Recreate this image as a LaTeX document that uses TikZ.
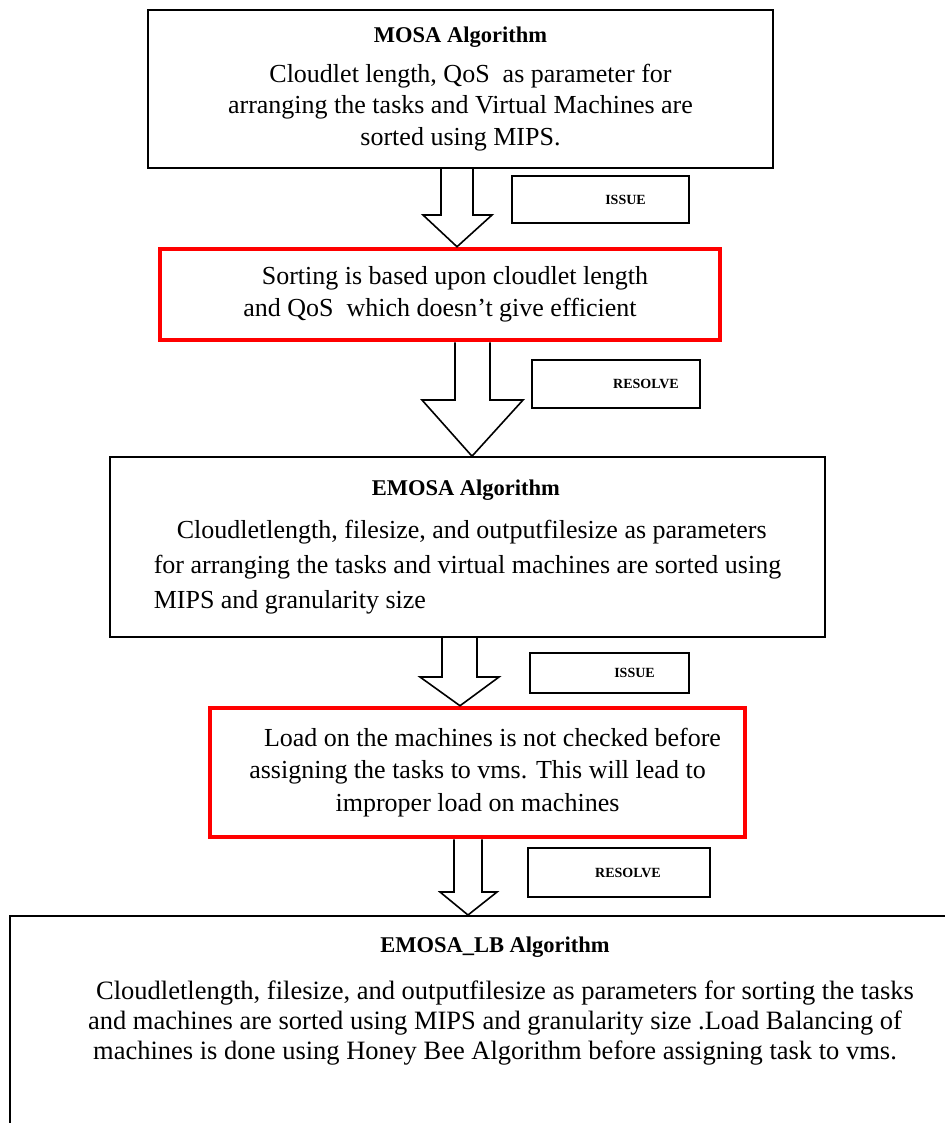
\documentclass[tikz,border=0pt]{standalone}
\usepackage{fontspec}
\setmainfont{Liberation Serif}
\newcommand\boxtitle[1]{{\fontsize{22.5}{27}\selectfont\bfseries #1}}
\begin{document}
\begin{tikzpicture}[x=1pt,y=-1pt,
    box/.style={draw, line width=1.6pt, align=center, inner sep=0pt},
    redbox/.style={draw=red, line width=4.5pt, align=center, inner sep=0pt},
    tagbox/.style={draw, line width=1.6pt, inner sep=0pt, font=\fontsize{14}{16}\selectfont\bfseries},
    hollowarrow/.style={draw, line width=1.6pt, line join=miter},
    body/.style={font=\fontsize{26}{31.5}\selectfont}]
  \useasboundingbox (0,0) rectangle (944,1123);
  % 方框
  \node[box, body, minimum width=625, minimum height=158] (mosa) at (460.5,89)
    {\boxtitle{MOSA Algorithm}\\[8pt]
     \hspace*{20pt}Cloudlet length, QoS\ \ as parameter for\\
     arranging the tasks and Virtual Machines are\\
     sorted using MIPS.};
  \node[redbox, body, minimum width=560, minimum height=91] (sort) at (440,294.5)
    {\hspace*{30pt}Sorting is based upon cloudlet length\\[1pt]
     and QoS\ \ which doesn’t give efficient};
  \node[box, font=\fontsize{26}{35}\selectfont, minimum width=715, minimum height=180, align=left] (emosa) at (467.5,547)
    {\hspace*{218pt}\boxtitle{EMOSA Algorithm}\\[8pt]
     \hspace*{23pt}Cloudletlength, filesize, and outputfilesize as parameters\\
     for arranging the tasks and virtual machines are sorted using\\
     MIPS and granularity size};
  \node[redbox, font=\fontsize{26}{32.5}\selectfont, minimum width=535, minimum height=129] (load) at (477.5,772.5)
    {\hspace*{30pt}Load on the machines is not checked before\\
     assigning the tasks to vms. This will lead to\\
     improper load on machines};
  \node[box, minimum width=955, minimum height=225, anchor=north] (lb) at (487.5,915) {};
  \node[font=\fontsize{26.5}{30}\selectfont, align=center, anchor=north] (lbtext) at (495,933)
    {\boxtitle{EMOSA\_LB Algorithm}\\[17pt]
     \hspace*{20pt}Cloudletlength, filesize, and outputfilesize as parameters for sorting the tasks\\
     and machines are sorted using MIPS and granularity size .Load Balancing of\\
     machines is done using Honey Bee Algorithm before assigning task to vms.};
  % 小标签
  \node[tagbox, minimum width=177, minimum height=47] (issuea) at (600.5,199.5) {\hspace*{50pt}ISSUE};
  \node[tagbox, minimum width=168, minimum height=48] (resolvea) at (616,384) {\hspace*{60pt}RESOLVE};
  \node[tagbox, minimum width=159, minimum height=40] (issueb) at (609.5,673) {\hspace*{50pt}ISSUE};
  \node[tagbox, minimum width=182, minimum height=49] (resolveb) at (619,872.5) {\hspace*{18pt}RESOLVE};
  % 空心箭头
  \draw[hollowarrow] (441,0 |- mosa.south) -- (441,215) -- (423,215) -- (457,0 |- sort.north)
    -- (492,215) -- (473,215) -- (473,0 |- mosa.south);
  \draw[hollowarrow] (455,0 |- sort.south) -- (455,400) -- (422,400) -- (472,0 |- emosa.north)
    -- (523,400) -- (490,400) -- (490,0 |- sort.south);
  \draw[hollowarrow] (442,0 |- emosa.south) -- (442,677) -- (420,677) -- (460,0 |- load.north)
    -- (499,677) -- (477,677) -- (477,0 |- emosa.south);
  \draw[hollowarrow] (454,0 |- load.south) -- (454,892) -- (440,892) -- (468,0 |- lb.north)
    -- (497,892) -- (482,892) -- (482,0 |- load.south);
\end{tikzpicture}
\end{document}
